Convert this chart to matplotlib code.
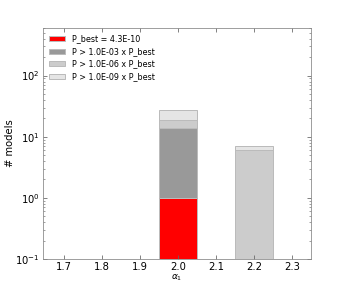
import matplotlib
matplotlib.use("Agg")
import matplotlib.pyplot as plt

# values
alpha1 = [2.0, 2.2]
n_best = [1, 0]
n_p3 = [14, 0]
n_p6 = [19, 6]
n_p9 = [27, 7]

labels = ["P_best = 4.3E-10", "P > 1.0E-03 x P_best",
          "P > 1.0E-06 x P_best", "P > 1.0E-09 x P_best"]
colors = ["#ff0000", "#999999", "#cccccc", "#e5e5e5"]

fig = plt.figure(figsize=(346 / 72, 289 / 72), dpi=72)
ax = fig.add_axes([43 / 346, 1 - 259 / 289, 268 / 346, 231 / 289])

# draw the widest set first, then overlay the narrower cuts
series = [n_p9, n_p6, n_p3, n_best]
cols = colors[::-1]
labs = labels[::-1]
handles = []
for vals, c, lab in zip(series, cols, labs):
    v = [h if h > 0 else 1e-3 for h in vals]
    b = ax.bar(alpha1, v, width=0.1, bottom=1e-3, color=c,
               edgecolor="#bbbbbb", linewidth=1.0, label=lab)
    handles.append(b)

ax.set_yscale("log")
ax.set_ylim(0.1, 600)
ax.set_xlim(1.645, 2.35)
ax.set_xticks([1.7, 1.8, 1.9, 2.0, 2.1, 2.2, 2.3])
ax.tick_params(which="both", direction="in", top=True, right=True,
               labelsize=10, color="#666666")
ax.tick_params(which="major", length=4)
ax.tick_params(which="minor", length=2)
ax.set_xlabel(r"$\alpha_1$", fontsize=9, labelpad=0)
ax.set_ylabel("# models", fontsize=10, labelpad=0)
for s in ax.spines.values():
    s.set_color("#888888")

leg = ax.legend(handles[::-1], labels, loc="upper left", frameon=False,
                fontsize=8, handlelength=2.0, handleheight=0.6,
                labelspacing=0.45, borderaxespad=0.4)

fig.savefig("out.png", dpi=72)
